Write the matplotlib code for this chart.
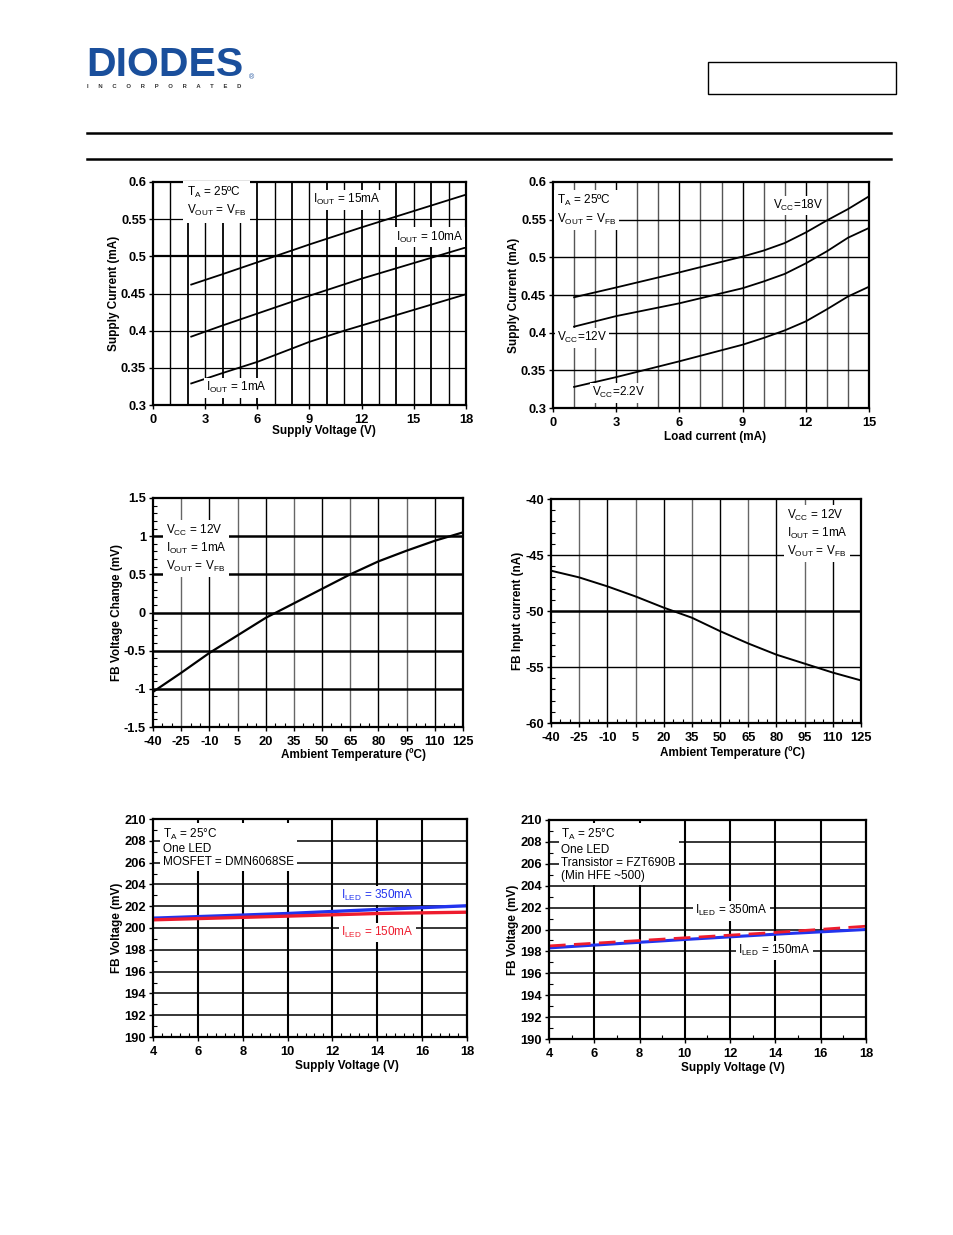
import matplotlib
matplotlib.use("Agg")
import matplotlib.pyplot as plt
from matplotlib.patches import Rectangle
from matplotlib.lines import Line2D
from matplotlib.ticker import MultipleLocator

plt.rcParams['font.family'] = ['Liberation Sans', 'DejaVu Sans']
plt.rcParams['mathtext.default'] = 'regular'

# ---------------- data ----------------
# Chart 1: supply current vs supply voltage
c1_x_15 = [2.2, 4, 6, 7, 9, 12, 15, 18]
c1_y_15 = [0.462, 0.476, 0.492, 0.500, 0.516, 0.539, 0.561, 0.583]
c1_x_10 = [2.2, 4, 6, 9, 12, 15, 18]
c1_y_10 = [0.392, 0.407, 0.423, 0.447, 0.470, 0.491, 0.512]
c1_x_1 = [2.2, 4, 6, 9, 11, 12, 15, 18]
c1_y_1 = [0.329, 0.343, 0.358, 0.385, 0.400, 0.407, 0.428, 0.449]

# Chart 2: supply current vs load current
c2_x = [1, 3, 6, 9, 10, 11, 12, 13, 14, 15]
c2_y_18 = [0.447, 0.460, 0.480, 0.501, 0.509, 0.519, 0.533, 0.549, 0.564, 0.581]
c2_y_12 = [0.408, 0.422, 0.439, 0.459, 0.468, 0.478, 0.492, 0.508, 0.526, 0.539]
c2_y_22 = [0.328, 0.341, 0.362, 0.384, 0.393, 0.403, 0.415, 0.431, 0.448, 0.461]

# Chart 3: FB voltage change vs temperature
temps = [-40, -25, -10, 5, 20, 35, 50, 65, 80, 95, 110, 125]
c3_y = [-1.04, -0.79, -0.53, -0.30, -0.07, 0.12, 0.31, 0.50, 0.67, 0.81, 0.94, 1.05]

# Chart 4: FB input current vs temperature
c4_y = [-46.4, -47.0, -47.8, -48.7, -49.7, -50.6, -51.8, -52.9, -53.9, -54.7, -55.5, -56.2]

# Chart 5: FB voltage vs supply voltage (MOSFET)
c5_x = [4, 10, 14, 18]
c5_y_350 = [200.9, 201.33, 201.7, 202.04]
c5_y_150 = [200.75, 201.09, 201.33, 201.45]

# Chart 6: FB voltage vs supply voltage (transistor)
c6_x = [4, 10, 14, 18]
c6_y_350 = [198.5, 199.24, 199.73, 200.3]
c6_y_150 = [198.32, 199.09, 199.57, 200.0]

# tick labels
c1_xticks = [0, 3, 6, 9, 12, 15, 18]
c1_yticks = [0.3, 0.35, 0.4, 0.45, 0.5, 0.55, 0.6]
c2_xticks = [0, 3, 6, 9, 12, 15]
temp_ticks = [-40, -25, -10, 5, 20, 35, 50, 65, 80, 95, 110, 125]
c3_yticks = [-1.5, -1, -0.5, 0, 0.5, 1, 1.5]
c4_yticks = [-60, -55, -50, -45, -40]
c56_xticks = [4, 6, 8, 10, 12, 14, 16, 18]
c56_yticks = [190, 192, 194, 196, 198, 200, 202, 204, 206, 208, 210]

# ---------------- figure ----------------
W, H = 954, 1235
fig = plt.figure(figsize=(W / 100, H / 100), dpi=100)


def add_ax(x0, y0, x1, y1):
    return fig.add_axes([x0 / W, 1 - y1 / H, (x1 - x0) / W, (y1 - y0) / H])


def fmt(v):
    return '%g' % v


TICKFONT = dict(fontsize=9.3, fontweight='bold')
LABFONT = dict(fontsize=8.5, fontweight='bold')
TXT = dict(fontsize=8.5)
WB = dict(facecolor='white', edgecolor='none', pad=1.5)


def style(ax, xt, yt, xlim, ylim, xlabel, ylabel, xlab_px, box):
    ax.set_xlim(*xlim)
    ax.set_ylim(*ylim)
    ax.set_xticks(xt)
    ax.set_yticks(yt)
    ax.set_xticklabels([fmt(v) for v in xt], **TICKFONT)
    ax.set_yticklabels([fmt(v) for v in yt], **TICKFONT)
    ax.set_xlabel(xlabel, **LABFONT)
    ax.set_ylabel(ylabel, labelpad=1, **LABFONT)
    x0, y0, x1, y1 = box
    lx, ly = xlab_px
    ax.xaxis.set_label_coords((lx - x0) / (x1 - x0), -(ly - y1) / (y1 - y0))
    ax.xaxis.label.set_va('center')
    for s in ax.spines.values():
        s.set_linewidth(1.6)
        s.set_color('black')
    ax.tick_params(which='major', length=3, width=1, color='black')
    ax.tick_params(axis='x', which='major', pad=3.5)
    ax.tick_params(axis='y', which='major', pad=2)
    ax.tick_params(which='minor', length=3, width=0.8, direction='in')
    ax.set_axisbelow(True)


# header
fig.text(86 / W, 1 - 76 / H, 'DIODES', fontsize=29.5, fontweight='heavy', color='#1a4f9c',
         ha='left', va='baseline')
fig.add_artist(Line2D([88 / W, 172 / W], [1 - 60.5 / H, 1 - 60.5 / H], color='white', lw=1.2))
fig.text(87 / W, 1 - 87 / H, 'I      N      C      O      R      P      O      R      A      T      E      D',
         fontsize=4.2, fontweight='bold', color='#333333', ha='left', va='center')
fig.text(249 / W, 1 - 78 / H, '®', fontsize=5, color='#1a4f9c', ha='left', va='center')
fig.add_artist(Rectangle((708 / W, 1 - 94 / H), 188 / W, 32 / H, fill=False, edgecolor='black', lw=1.0))
for yy in (133, 159):
    fig.add_artist(Line2D([87 / W, 891 / W], [1 - yy / H, 1 - yy / H], color='black', lw=1.8))

# ---------- Chart 1 ----------
b1 = (153, 182, 466, 405)
ax1 = add_ax(*b1)
style(ax1, c1_xticks, c1_yticks, (0, 18), (0.3, 0.6), 'Supply Voltage (V)', 'Supply Current (mA)',
      (324, 431), b1)
for v in range(1, 18):
    ax1.axvline(v, color='black', lw=1.0 if v % 2 else 1.3, zorder=0)
for v in c1_yticks[1:-1]:
    ax1.axhline(v, color='black', lw=1.6 if v == 0.5 else 0.9, zorder=0)
ax1.plot(c1_x_15, c1_y_15, color='black', lw=1.3)
ax1.plot(c1_x_10, c1_y_10, color='black', lw=1.3)
ax1.plot(c1_x_1, c1_y_1, color='black', lw=1.3)
ax1.text(1.95, 0.596, 'T$_A$ = 25ºC\nV$_{OUT}$ = V$_{FB}$', va='top', ha='left', linespacing=1.3,
         bbox=dict(facecolor='white', edgecolor='none', pad=3), **TXT)
ax1.text(9.2, 0.576, 'I$_{OUT}$ = 15mA', va='center', ha='left', bbox=WB, **TXT)
ax1.text(13.95, 0.526, 'I$_{OUT}$ = 10mA', va='center', ha='left', bbox=WB, **TXT)
ax1.text(3.05, 0.323, 'I$_{OUT}$ = 1mA', va='center', ha='left', bbox=WB, **TXT)

# ---------- Chart 2 ----------
b2 = (553, 182, 869, 408)
ax2 = add_ax(*b2)
style(ax2, c2_xticks, c1_yticks, (0, 15), (0.3, 0.6), 'Load current (mA)', 'Supply Current (mA)',
      (715, 437), b2)
for v in range(1, 15):
    ax2.axvline(v, color='black' if v % 3 == 0 else '#555555', lw=1.0, zorder=0)
for v in c1_yticks[1:-1]:
    ax2.axhline(v, color='black', lw=1.0, zorder=0)
ax2.plot(c2_x, c2_y_18, color='black', lw=1.3)
ax2.plot(c2_x, c2_y_12, color='black', lw=1.3)
ax2.plot(c2_x, c2_y_22, color='black', lw=1.3)
ax2.text(0.2, 0.585, 'T$_A$ = 25ºC\nV$_{OUT}$ = V$_{FB}$', va='top', ha='left', linespacing=1.3,
         bbox=dict(facecolor='white', edgecolor='none', pad=2), **TXT)
ax2.text(10.45, 0.569, 'V$_{CC}$=18V', va='center', ha='left', bbox=WB, **TXT)
ax2.text(0.2, 0.393, 'V$_{CC}$=12V', va='center', ha='left', bbox=WB, **TXT)
ax2.text(1.85, 0.320, 'V$_{CC}$=2.2V', va='center', ha='left', bbox=WB, **TXT)

# ---------- Chart 3 ----------
b3 = (153, 498, 463, 727)
ax3 = add_ax(*b3)
style(ax3, temp_ticks, c3_yticks, (-40, 125), (-1.5, 1.5), 'Ambient Temperature (ºC)',
      'FB Voltage Change (mV)', (354, 755), b3)
ax3.xaxis.set_minor_locator(MultipleLocator(5))
ax3.yaxis.set_minor_locator(MultipleLocator(0.1))
for v in temp_ticks[1:-1]:
    ax3.axvline(v, color='black' if v % 2 == 0 else '#666666', lw=1.0, zorder=0)
for v in c3_yticks[1:-1]:
    ax3.axhline(v, color='black', lw=1.8, zorder=0)
ax3.plot(temps, c3_y, color='black', lw=1.6)
ax3.text(-33.2, 1.17, 'V$_{CC}$ = 12V\nI$_{OUT}$ = 1mA\nV$_{OUT}$ = V$_{FB}$', va='top', ha='left',
         linespacing=1.25, bbox=dict(facecolor='white', edgecolor='none', pad=2), **TXT)

# ---------- Chart 4 ----------
b4 = (551, 499, 861, 723)
ax4 = add_ax(*b4)
style(ax4, temp_ticks, c4_yticks, (-40, 125), (-60, -40), 'Ambient Temperature (ºC)',
      'FB Input current (nA)', (732, 753), b4)
ax4.xaxis.set_minor_locator(MultipleLocator(5))
ax4.yaxis.set_minor_locator(MultipleLocator(1))
for v in temp_ticks[1:-1]:
    ax4.axvline(v, color='black' if v % 2 == 0 else '#666666', lw=1.0, zorder=0)
for v in c4_yticks[1:-1]:
    ax4.axhline(v, color='black', lw=1.8 if v == -50 else 1.0, zorder=0)
ax4.plot(temps, c4_y, color='black', lw=1.4)
ax4.text(85.5, -40.8, 'V$_{CC}$ = 12V\nI$_{OUT}$ = 1mA\nV$_{OUT}$ = V$_{FB}$', va='top', ha='left',
         linespacing=1.25, bbox=dict(facecolor='white', edgecolor='none', pad=2), **TXT)

# ---------- Chart 5 ----------
b5 = (153, 819, 467, 1037)
ax5 = add_ax(*b5)
style(ax5, c56_xticks, c56_yticks, (4, 18), (190, 210), 'Supply Voltage (V)', 'FB Voltage (mV)',
      (347, 1066), b5)
ax5.xaxis.set_minor_locator(MultipleLocator(0.4))
ax5.yaxis.set_minor_locator(MultipleLocator(1))
for v in c56_xticks[1:-1]:
    ax5.axvline(v, color='black', lw=1.5, zorder=0)
for v in c56_yticks[1:-1]:
    ax5.axhline(v, color='black', lw=1.1, zorder=0)
ax5.plot(c5_x, c5_y_350, color='#2233ee', lw=2.4)
ax5.plot(c5_x, c5_y_150, color='#ee1c2e', lw=2.4)
ax5.text(4.45, 209.3, 'T$_A$ = 25°C\nOne LED\nMOSFET = DMN6068SE', va='top', ha='left', linespacing=1.15,
         bbox=dict(facecolor='white', edgecolor='none', pad=2), **TXT)
ax5.text(12.4, 203.0, 'I$_{LED}$ = 350mA', va='center', ha='left', color='#2233ee', bbox=WB, **TXT)
ax5.text(12.4, 199.6, 'I$_{LED}$ = 150mA', va='center', ha='left', color='#ee1c2e', bbox=WB, **TXT)

# ---------- Chart 6 ----------
b6 = (549, 820, 866, 1039)
ax6 = add_ax(*b6)
style(ax6, c56_xticks, c56_yticks, (4, 18), (190, 210), 'Supply Voltage (V)', 'FB Voltage (mV)',
      (733, 1068), b6)
ax6.xaxis.set_minor_locator(MultipleLocator(1))
ax6.yaxis.set_minor_locator(MultipleLocator(1))
for v in c56_xticks[1:-1]:
    ax6.axvline(v, color='black', lw=1.5, zorder=0)
for v in c56_yticks[1:-1]:
    ax6.axhline(v, color='black', lw=1.1, zorder=0)
ax6.plot(c6_x, c6_y_150, color='#2233ee', lw=2.2)
ax6.plot(c6_x, c6_y_350, color='#ee1c2e', lw=2.0, dashes=(6, 3))
ax6.text(4.55, 209.35, 'T$_A$ = 25°C\nOne LED\nTransistor = FZT690B\n(Min HFE ~500)', va='top', ha='left',
         linespacing=1.15, bbox=dict(facecolor='white', edgecolor='none', pad=2), **TXT)
ax6.text(10.45, 201.7, 'I$_{LED}$ = 350mA', va='center', ha='left', bbox=WB, **TXT)
ax6.text(12.35, 198.1, 'I$_{LED}$ = 150mA', va='center', ha='left', bbox=WB, **TXT)

fig.savefig('out.png', dpi=100)
